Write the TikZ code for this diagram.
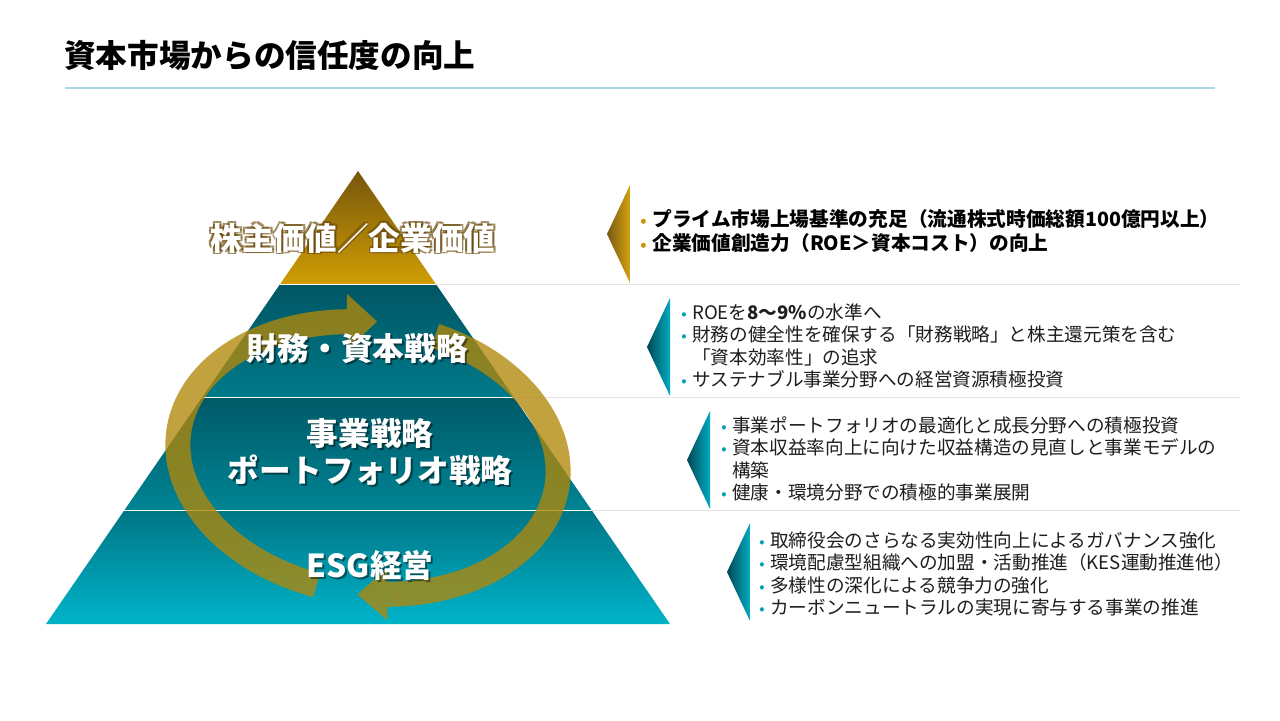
\documentclass[tikz,border=0pt]{standalone}
\usepackage{fontspec}
\setmainfont{Noto Sans CJK JP}
\usetikzlibrary{calc,positioning}
\tikzset{>=latex}

\definecolor{titleline}{RGB}{170,218,222}
\definecolor{goldTop}{RGB}{118,86,12}
\definecolor{goldBot}{RGB}{208,158,4}
\definecolor{tealA}{RGB}{0,86,100}
\definecolor{tealB}{RGB}{0,122,138}
\definecolor{tealC}{RGB}{0,90,104}
\definecolor{tealD}{RGB}{0,132,148}
\definecolor{tealE}{RGB}{0,118,134}
\definecolor{tealF}{RGB}{0,180,202}
\definecolor{ringgold}{RGB}{178,136,10}
\definecolor{glowbrown}{RGB}{105,72,8}
\definecolor{chevGoldL}{RGB}{120,88,20}
\definecolor{chevGoldR}{RGB}{212,162,16}
\definecolor{chevTealL}{RGB}{0,70,84}
\definecolor{chevTealR}{RGB}{0,172,192}
\definecolor{dotgold}{RGB}{200,150,20}
\definecolor{dotteal}{RGB}{0,160,180}
\definecolor{rulegray}{RGB}{228,228,228}
\definecolor{bodytext}{RGB}{30,30,30}

\newcommand{\gdot}{\textcolor{dotgold}{\fontsize{9}{9}\selectfont •}\hspace{0.3em}}
\newcommand{\tdot}{\textcolor{dotteal}{\fontsize{9}{9}\selectfont •}\hspace{0.3em}}

\begin{document}
\begin{tikzpicture}[x=0.02cm, y=-0.02cm,
  lbl/.style={text=white, font=\bfseries\fontsize{18}{21.5}\selectfont, align=center, inner sep=0},
  lblsh/.style={lbl, text=black, opacity=0.45},
  info/.style={anchor=west, align=left, inner sep=0, text=bodytext, font=\fontsize{10.6}{12.8}\selectfont},
  infotop/.style={info, text=black, font=\bfseries\fontsize{11.2}{14.2}\selectfont},
  ringline/.style={draw=ringgold, line width=0.5cm},
  ringhead/.style={fill=ringgold}]
  % --- Canvas ---
  \fill[white] (0,0) rectangle (1280,720);
  \useasboundingbox (0,0) rectangle (1280,720);

  % --- 1. Title ---
  \node[anchor=west, inner sep=0, font=\bfseries\fontsize{18}{22}\selectfont] (title) at (64,55) {資本市場からの信任度の向上};
  \coordinate (tl) at (65,88);
  \coordinate (tr) at (1215,88);
  \draw[titleline, line width=1.7pt] (tl) -- (tr);

  % --- 2. Pyramid ---
  \coordinate (apex) at (358,171);
  \coordinate (bl) at (46,624);
  \coordinate (br) at (670,624);
  \coordinate (rim) at (1240,0);

  % Gold tip
  \shade[top color=goldTop, bottom color=goldBot] (apex) -- ($(apex)!0.25!(br)$) -- ($(apex)!0.25!(bl)$) -- cycle;

  % Teal bands, each with its own gradient
  \foreach \a/\b/\ct/\cb in {0.25/0.5/tealA/tealB, 0.5/0.75/tealC/tealD, 0.75/1/tealE/tealF}
    \shade[top color=\ct, bottom color=\cb] ($(apex)!\a!(bl)$) -- ($(apex)!\a!(br)$) -- ($(apex)!\b!(br)$) -- ($(apex)!\b!(bl)$) -- cycle;

  % Band borders and the rules to the right
  \foreach \f [count=\i] in {0.25,0.5,0.75} {
    \coordinate (sl\i) at ($(apex)!\f!(bl)$);
    \coordinate (sr\i) at ($(apex)!\f!(br)$);
    \draw[white, line width=0.8pt] (sl\i) -- (sr\i);
    \draw[rulegray, line width=0.6pt] (sr\i) -- (sr\i -| rim);
  }

  % --- 3. Cycle arrows ---
  \begin{scope}[shift={(368,458)}, rotate=-8, opacity=0.78]
    % left arc, up to the top
    \draw[ringline] (100:191 and 135) arc[start angle=100, end angle=258, x radius=191, y radius=135];
    \begin{scope}[shift={(258:191 and 135)}, rotate=8.5]
      \fill[ringhead] (0,-28) -- (30,0) -- (0,28) -- cycle;
    \end{scope}
    % right arc, down to the bottom
    \draw[ringline] (285:191 and 135) arc[start angle=285, end angle=438.5, x radius=191, y radius=135];
    \begin{scope}[shift={(78.5:191 and 135)}, rotate=188.2]
      \fill[ringhead] (0,-26) -- (30,0) -- (0,26) -- cycle;
    \end{scope}
  \end{scope}

  % --- 4. Pyramid labels ---
  % Top label with a brown glow
  \foreach \dx/\dy [count=\k] in {-1.8/-1.8,1.8/1.8,-1.8/1.8,1.8/-1.8}
    \node[lbl, text=glowbrown, opacity=0.6] (gl\k) at (353+\dx,238+\dy) {株主価値／企業価値};
  \node[lbl] (lbTop) at (353,238) {株主価値／企業価値};

  % Lower labels with a drop shadow
  \foreach \x/\y/\txt [count=\i] in {357/349/{財務・資本戦略}, 370/452/{事業戦略\\ポートフォリオ戦略}, 370/565/{ESG経営}} {
    \node[lblsh] (sh\i) at (\x+2,\y+2) {\txt};
    \node[lbl] (lb\i) at (\x,\y) {\txt};
  }

  % --- 5. Chevrons ---
  \foreach \cx/\cy/\cl/\cr [count=\i] in {630/234/chevGoldL/chevGoldR, 670/347/chevTealL/chevTealR, 710/460/chevTealL/chevTealR, 750/572/chevTealL/chevTealR}
    \shade[left color=\cl, right color=\cr] (\cx,\cy-49) -- (\cx,\cy+49) -- (\cx-23,\cy) -- cycle;

  % --- 6. Bullet texts ---
  \node[infotop] (vBox) at (640,231) {\gdot プライム市場上場基準の充足（流通株式時価総額100億円以上）\\
    \gdot 企業価値創造力（ROE＞資本コスト）の向上};

  \node[info] (fBox) at (681,346) {\tdot ROEを\textbf{8～9\%}の水準へ\\
    \tdot 財務の健全性を確保する「財務戦略」と株主還元策を含む\\
    \phantom{\tdot}「資本効率性」の追求\\
    \tdot サステナブル事業分野への経営資源積極投資};

  \node[info] (bBox) at (721,459) {\tdot 事業ポートフォリオの最適化と成長分野への積極投資\\
    \tdot 資本収益率向上に向けた収益構造の見直しと事業モデルの\\
    \phantom{\tdot}構築\\
    \tdot 健康・環境分野での積極的事業展開};

  \node[info] (eBox) at (759,574) {\tdot 取締役会のさらなる実効性向上によるガバナンス強化\\
    \tdot 環境配慮型組織への加盟・活動推進（KES運動推進他）\\
    \tdot 多様性の深化による競争力の強化\\
    \tdot カーボンニュートラルの実現に寄与する事業の推進};
\end{tikzpicture}
\end{document}
